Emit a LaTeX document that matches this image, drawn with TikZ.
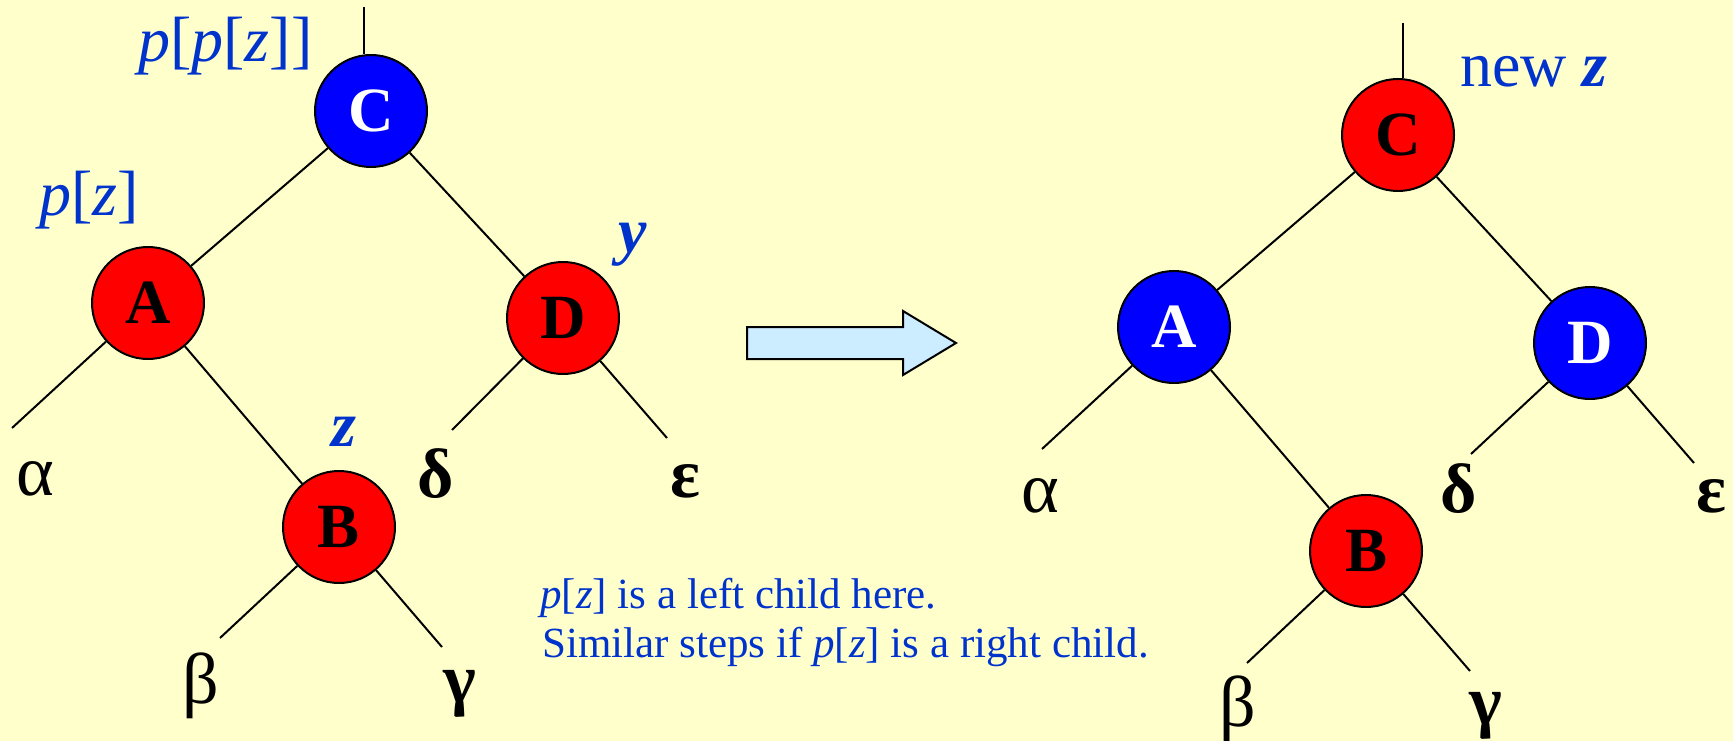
\documentclass[tikz,border=0pt]{standalone}
\usepackage{fontspec}
\setmainfont{Liberation Serif}
\definecolor{bgyellow}{HTML}{FFFFCC}
\definecolor{lblblue}{HTML}{0033CC}
\definecolor{arrowblue}{HTML}{CCECFF}
\begin{document}
\begin{tikzpicture}[x=1pt,y=-1pt,
  edge/.style={line width=2pt},
  rb/.style={circle, draw=black, line width=2pt, minimum size=112pt, inner sep=0pt, font=\fontsize{63}{63}\selectfont\bfseries},
  rednode/.style={rb, fill=red, text=black},
  bluenode/.style={rb, fill=blue, text=white},
  greek/.style={font=\fontsize{72}{72}\selectfont, anchor=base, inner sep=0pt},
  boldgreek/.style={greek, font=\fontsize{70}{70}\selectfont\bfseries},
  lbl/.style={font=\fontsize{64}{64}\selectfont, text=lblblue, inner sep=0pt},
  note/.style={font=\fontsize{43}{49}\selectfont, text=lblblue, anchor=base west, inner sep=0pt}]
\fill[bgyellow] (0,0) rectangle (1733,741);
\useasboundingbox (0,0) rectangle (1733,741);

% ---------- left tree ----------
\node[bluenode] (C1) at (371,111) {C};
\node[rednode] (A1) at (148,303) {A};
\node[rednode] (D1) at (563,318) {D};
\node[rednode] (B1) at (339,527) {B};
\coordinate (top1) at (364,7);
\coordinate (ea1) at (12,428);
\coordinate (ed1) at (452,430);
\coordinate (ee1) at (667,438);
\coordinate (eb1) at (220,638);
\coordinate (eg1) at (442,647);
\draw[edge] (top1) -- (top1 |- C1.north);
\draw[edge] (C1) -- (A1);
\draw[edge] (C1) -- (D1);
\draw[edge] (A1) -- (ea1);
\draw[edge] (A1) -- (B1);
\draw[edge] (D1) -- (ed1);
\draw[edge] (D1) -- (ee1);
\draw[edge] (B1) -- (eb1);
\draw[edge] (B1) -- (eg1);
\node[greek] (al1) at (35,495) {α};
\node[boldgreek] (de1) at (436,497) {δ};
\node[boldgreek] (ep1) at (685,497) {ε};
\node[greek] (be1) at (201,703) {β};
\node[boldgreek] (ga1) at (460,702) {γ};
\node[lbl, anchor=base west] (ppz) at (138,62) {\textit{p}[\textit{p}[\textit{z}]]};
\node[lbl, anchor=base west] (pz) at (39,215) {\textit{p}[\textit{z}]};
\node[lbl, anchor=base] (zl) at (344,446) {\textbf{\textit{z}}};
\node[lbl, anchor=base] (yl) at (633,252) {\textbf{\textit{y}}};

% ---------- arrow ----------
\draw[line width=2pt, fill=arrowblue, line join=miter]
  (747,327) -- (903,327) -- (903,311) -- (956,343) -- (903,375) -- (903,359) -- (747,359) -- cycle;

% ---------- note ----------
\node[note] (note1) at (540,608) {\textit{p}[\textit{z}] is a left child here.};
\node[note] (note2) at (542,657) {Similar steps if \textit{p}[\textit{z}] is a right child.};

% ---------- right tree ----------
\node[rednode] (C2) at (1398,135) {C};
\node[bluenode] (A2) at (1174,327) {A};
\node[bluenode] (D2) at (1590,343) {D};
\node[rednode] (B2) at (1366,551) {B};
\coordinate (top2) at (1403,23);
\coordinate (ea2) at (1042,449);
\coordinate (ed2) at (1471,454);
\coordinate (ee2) at (1694,463);
\coordinate (eb2) at (1247,663);
\coordinate (eg2) at (1470,671);
\draw[edge] (top2) -- (top2 |- C2.north);
\draw[edge] (C2) -- (A2);
\draw[edge] (C2) -- (D2);
\draw[edge] (A2) -- (ea2);
\draw[edge] (A2) -- (B2);
\draw[edge] (D2) -- (ed2);
\draw[edge] (D2) -- (ee2);
\draw[edge] (B2) -- (eb2);
\draw[edge] (B2) -- (eg2);
\node[greek] (al2) at (1040,512) {α};
\node[boldgreek] (de2) at (1459,512) {δ};
\node[boldgreek] (ep2) at (1711,512) {ε};
\node[greek] (be2) at (1238,726) {β};
\node[boldgreek] (ga2) at (1486,724) {γ};
\node[lbl, anchor=base west] (newz) at (1460,87) {new \textbf{\textit{z}}};
\end{tikzpicture}
\end{document}
